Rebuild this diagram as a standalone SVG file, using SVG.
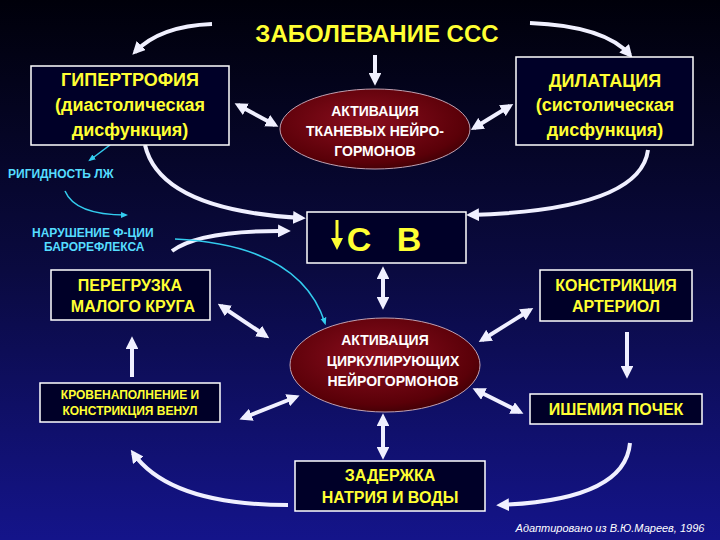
<svg xmlns="http://www.w3.org/2000/svg" width="720" height="540" viewBox="0 0 720 540">
<defs>
<linearGradient id="bg" x1="0" y1="0" x2="0" y2="1"><stop offset="0" stop-color="#00000a"/><stop offset="0.5" stop-color="#0a0a40"/><stop offset="1" stop-color="#14148a"/></linearGradient>
<radialGradient id="eg" cx="0.45" cy="0.4" r="0.65"><stop offset="0" stop-color="#8a0e1e"/><stop offset="0.8" stop-color="#5a0008"/><stop offset="1" stop-color="#3a0004"/></radialGradient>
<marker id="a" viewBox="0 0 10 10" refX="7" refY="5" markerWidth="3.2" markerHeight="3.2" orient="auto-start-reverse"><path d="M0,0 L10,5 L0,10 z" fill="#f0f0ff"/></marker>
<marker id="c" viewBox="0 0 10 10" refX="7" refY="5" markerWidth="5" markerHeight="5" orient="auto"><path d="M0,1 L10,5 L0,9 z" fill="#33ccee"/></marker>
</defs>
<style>
.b{fill:#000028;stroke:#ffffff;stroke-width:1.5}
.e{fill:url(#eg);stroke:#c0a0b0;stroke-width:1}
.y{fill:#ffff33;font-family:"Liberation Sans",Arial,sans-serif;font-weight:bold;text-anchor:middle}
.w{fill:#ffffff;font-family:"Liberation Sans",Arial,sans-serif;font-weight:bold;text-anchor:middle;font-size:14px}
.cy{fill:#55ddff;font-family:"Liberation Sans",Arial,sans-serif;font-weight:bold;font-size:12px}
.l{fill:none;stroke:#f0f0ff;stroke-width:4;marker-end:url(#a)}
.d{fill:none;stroke:#f0f0ff;stroke-width:4;marker-end:url(#a);marker-start:url(#a)}
.cl{fill:none;stroke:#33ccee;stroke-width:1.5;marker-end:url(#c)}
</style>
<rect width="720" height="540" fill="url(#bg)"/>
<g id="connectors">
<path class="l" d="M212,24 Q160,26 135,52"/>
<path class="l" d="M530,23 Q605,26 630,55"/>
<path class="l" d="M375,55 L375,82"/>
<path class="d" d="M238,105 L275,125"/>
<path class="d" d="M474,128 L510,106"/>
<path class="l" d="M145,145 Q160,210 302,218"/>
<path class="l" d="M648,150 Q640,210 470,215"/>
<path class="l" d="M172,251 Q200,230 287,231"/>
<path class="d" d="M383,270 L383,306"/>
<path class="d" d="M221,306 L266,336"/>
<path class="d" d="M482,340 L530,310"/>
<path class="d" d="M243,418 L296,397"/>
<path class="d" d="M476,390 L520,412"/>
<path class="l" d="M132,377 L132,340"/>
<path class="l" d="M627,332 L627,375"/>
<path class="d" d="M383,417 L383,456"/>
<path class="l" d="M630,443 Q625,500 500,505"/>
<path class="l" d="M288,505 Q170,505 133,453"/>
<path class="cl" d="M110,145 L90,160"/>
<path class="cl" d="M65,191 Q75,215 126,215"/>
<path class="cl" d="M175,239 Q300,245 325,323"/>
</g>
<text x="377" y="42" class="y" font-size="24">ЗАБОЛЕВАНИЕ ССС</text>
<g id="hyper"><rect class="b" x="31" y="66" width="198" height="79"/>
<text class="y" x="130" y="86" font-size="18">ГИПЕРТРОФИЯ</text><text class="y" x="130" y="111" font-size="18">(диастолическая</text><text class="y" x="130" y="136" font-size="18">дисфункция)</text></g>
<g id="tissue"><ellipse class="e" cx="375" cy="129" rx="95" ry="40"/>
<text class="w" x="375" y="116">АКТИВАЦИЯ</text><text class="w" x="375" y="136">ТКАНЕВЫХ НЕЙРО-</text><text class="w" x="375" y="156">ГОРМОНОВ</text></g>
<g id="dilat"><rect class="b" x="516" y="57" width="177" height="88"/>
<text class="y" x="605" y="87" font-size="18">ДИЛАТАЦИЯ</text><text class="y" x="605" y="111" font-size="18">(систолическая</text><text class="y" x="605" y="136" font-size="18">дисфункция)</text></g>
<text class="cy" x="8" y="178">РИГИДНОСТЬ  ЛЖ</text>
<text class="cy" x="32" y="237">НАРУШЕНИЕ Ф-ЦИИ</text><text class="cy" x="44" y="251">БАРОРЕФЛЕКСА</text>
<g id="sv"><rect class="b" x="307" y="212" width="159" height="51"/>
<path d="M337,220 L337,243" stroke="#ffff33" stroke-width="3"/><path d="M331,238 L337,250 L343,238 z" fill="#ffff33"/>
<text class="y" x="388" y="251" font-size="34" style="letter-spacing:8px">С В</text></g>
<g id="overload"><rect class="b" x="51" y="270" width="159" height="50"/>
<text class="y" x="130" y="291" font-size="16">ПЕРЕГРУЗКА</text><text class="y" x="133" y="312" font-size="16">МАЛОГО КРУГА</text></g>
<g id="constr"><rect class="b" x="540" y="270" width="152" height="51"/>
<text class="y" x="616" y="291" font-size="16">КОНСТРИКЦИЯ</text><text class="y" x="616" y="312" font-size="16">АРТЕРИОЛ</text></g>
<g id="circ"><ellipse class="e" cx="385" cy="365" rx="95" ry="47"/>
<text class="w" x="385" y="345">АКТИВАЦИЯ</text><text class="w" x="393" y="366">ЦИРКУЛИРУЮЩИХ</text><text class="w" x="393" y="386">НЕЙРОГОРМОНОВ</text></g>
<g id="venul"><rect class="b" x="40" y="383" width="180" height="39"/>
<text class="y" x="130" y="399" font-size="12">КРОВЕНАПОЛНЕНИЕ И</text><text class="y" x="130" y="415" font-size="12">КОНСТРИКЦИЯ ВЕНУЛ</text></g>
<g id="ischem"><rect class="b" x="530" y="394" width="172" height="30"/>
<text class="y" x="616" y="415" font-size="16">ИШЕМИЯ  ПОЧЕК</text></g>
<g id="natrium"><rect class="b" x="295" y="461" width="190" height="50"/>
<text class="y" x="390" y="481" font-size="16">ЗАДЕРЖКА</text><text class="y" x="390" y="503" font-size="16">НАТРИЯ И ВОДЫ</text></g>
<text x="610" y="532" fill="#ffffff" font-family="Liberation Sans,Arial,sans-serif" font-style="italic" font-size="11" text-anchor="middle">Адаптировано из В.Ю.Мареев, 1996</text>
</svg>
